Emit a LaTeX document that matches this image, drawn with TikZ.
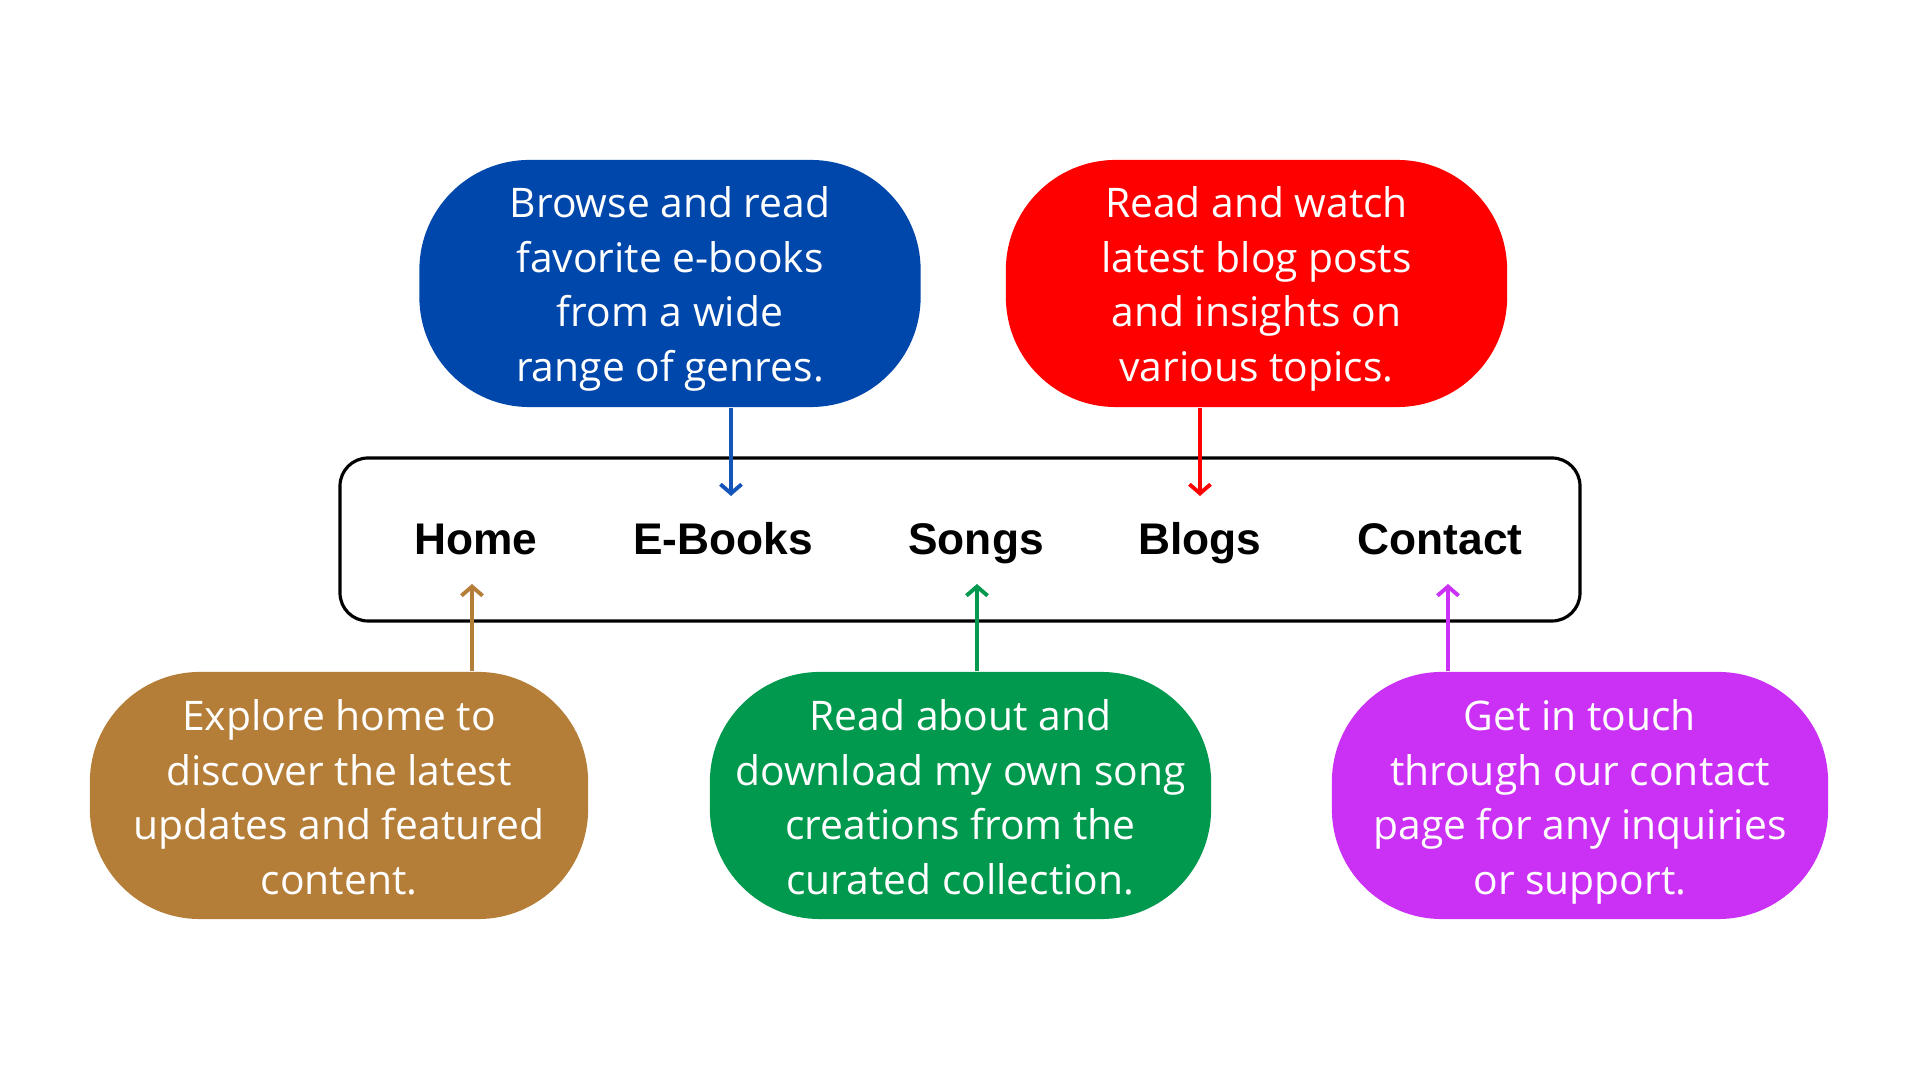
\documentclass[tikz,border=0pt]{standalone}
\usepackage{fontspec}
\setmainfont{Open Sans}
\newfontfamily\menufont{Liberation Sans}
\usetikzlibrary{arrows.meta}
\definecolor{bubbleblue}{RGB}{0,71,171}
\definecolor{arrowblue}{RGB}{20,85,185}
\definecolor{bubblered}{RGB}{255,0,0}
\definecolor{bubblebrown}{RGB}{180,125,56}
\definecolor{bubblegreen}{RGB}{0,153,77}
\definecolor{bubblepurple}{RGB}{203,48,245}
\tikzset{
  bubble/.style={fill=#1, draw=none, rounded corners=1.1cm, minimum width=5.01cm,
    minimum height=2.47cm, inner sep=0pt},
  bubbletext/.style={anchor=north, inner sep=0pt, align=center, text=white,
    font=\fontsize{11.6}{15.5}\selectfont},
  menuitem/.style={anchor=base, font=\menufont\bfseries\fontsize{12.6}{14}\selectfont, inner sep=0pt},
  link/.style={draw=#1, line width=1.1pt, -{Straight Barb[length=2.6pt,width=6pt,line width=1.1pt]}},
}
\begin{document}
\begin{tikzpicture}[x=0.01cm, y=-0.01cm]
\useasboundingbox[fill=white] (0,0) rectangle (1920,1080);

% navigation bar
\draw[line width=0.9pt, rounded corners=0.28cm] (340,458) rectangle (1580,621);
\node[menuitem] (home) at (476,555) {Home};
\node[menuitem] (ebooks) at (723,555) {E-Books};
\node[menuitem] (songs) at (976,555) {Songs};
\node[menuitem] (blogs) at (1200,555) {Blogs};
\node[menuitem] (contact) at (1440,555) {Contact};

% description bubbles
\node[bubble=bubbleblue] (eb) at (670,283.5) {};
\node[bubble=bubblered] (bl) at (1256.5,283.5) {};
\node[bubble=bubblebrown, minimum width=4.98cm] (ho) at (339,795.5) {};
\node[bubble=bubblegreen] (so) at (960.5,795.5) {};
\node[bubble=bubblepurple, minimum width=4.96cm] (co) at (1580,795.5) {};

\node[bubbletext] (ebt) at (670,179)
  {\strut Browse and read\\favorite e-books\\from a wide\\range of genres.\strut};
\node[bubbletext] (blt) at (1256.5,179)
  {\strut Read and watch\\latest blog posts\\and insights on\\various topics.\strut};
\node[bubbletext] (hot) at (339,692)
  {\strut Explore home to\\discover the latest\\updates and featured\\content.\strut};
\node[bubbletext] (sot) at (960.5,692)
  {\strut Read about and\\download my own song\\creations from the\\curated collection.\strut};
\node[bubbletext] (cot) at (1580,692)
  {\strut Get in touch\\through our contact\\page for any inquiries\\or support.\strut};

% arrow tips inside the bar
\coordinate (tipE) at (731,496);
\coordinate (tipB) at (1200,496);
\coordinate (tipH) at (472,584);
\coordinate (tipS) at (977,584);
\coordinate (tipC) at (1448,584);

\draw[link=arrowblue] (eb.south -| tipE) -- (tipE);
\draw[link=bubblered] (bl.south -| tipB) -- (tipB);
\draw[link=bubblebrown] (ho.north -| tipH) -- (tipH);
\draw[link=bubblegreen] (so.north -| tipS) -- (tipS);
\draw[link=bubblepurple] (co.north -| tipC) -- (tipC);
\end{tikzpicture}
\end{document}
